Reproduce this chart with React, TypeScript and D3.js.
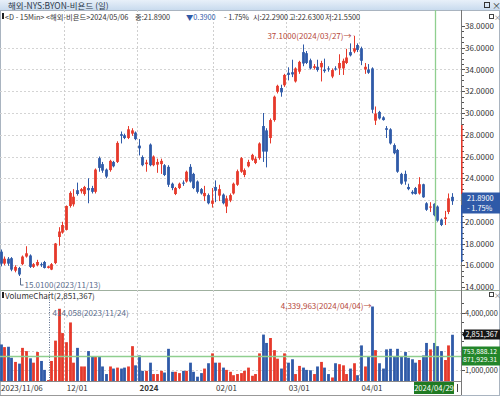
import React from 'react';
import * as d3 from 'd3';

// trading days shown (Nov 6 2023 .. May 6 2024)
const nov23 = [6, 7, 8, 9, 10, 13, 14, 15, 16, 17, 20, 21, 22, 24, 27, 28, 29, 30];
const dec23 = [1, 4, 5, 6, 7, 8, 11, 12, 13, 14, 15, 18, 19, 20, 21, 22, 26, 27, 28, 29];
const jan24 = [2, 3, 4, 5, 8, 9, 10, 11, 12, 16, 17, 18, 19, 22, 23, 24, 25, 26, 29, 30, 31];
const feb24 = [1, 2, 5, 6, 7, 8, 9, 12, 13, 14, 15, 16, 20, 21, 22, 23, 26, 27, 28, 29];
const mar24 = [1, 4, 5, 6, 7, 8, 11, 12, 13, 14, 15, 18, 19, 20, 21, 22, 25, 26, 27, 28];
const apr24 = [1, 2, 3, 4, 5, 8, 9, 10, 11, 12, 15, 16, 17, 18, 19, 22, 23, 24, 25, 26, 29, 30];
const may24 = [1, 2, 3, 6];

const opens = [
  17.25, 16.15, 16.6, 16.65, 15.5, 15.75, 16.1, 16.8, 16.9, 15.85,
  16.0, 16.1, 16.3, 15.75, 15.6, 16.2, 18.6, 19.0, 19.25, 21.45,
  21.6, 22.9, 22.8, 22.55, 23.1, 23.1, 22.75, 25.85, 25.3, 24.8,
  24.75, 25.5, 25.5, 28.05, 27.95, 27.7, 28.1, 28.2, 27.0, 25.95,
  25.3, 27.1, 25.2, 25.25, 25.3, 25.2, 25.05, 23.5, 22.55, 23.1,
  23.6, 23.7, 25.05, 24.4, 23.7, 23.0, 22.35, 22.45, 21.65, 23.2,
  22.4, 22.5, 21.4, 21.95, 22.6, 23.4, 24.6, 24.3, 25.1, 25.7,
  25.4, 25.85, 28.8, 28.4, 27.7, 29.35, 31.95, 32.3, 32.55, 33.7,
  33.75, 32.9, 33.8, 35.6, 35.5, 34.85, 34.15, 34.25, 34.2, 34.0,
  34.1, 33.35, 34.1, 34.1, 34.1, 34.6, 35.6, 35.65, 36.25, 35.95,
  34.0, 34.0, 34.1, 29.3, 30.1, 29.6, 28.6, 28.5, 27.05, 26.6,
  24.4, 24.4, 23.2, 22.75, 23.1, 22.6, 23.45, 21.7, 21.3, 21.65,
  21.4, 20.2, 20.25, 20.9, 22.29,
];
const highs = [
  17.45, 16.8, 16.75, 16.75, 16.0, 15.85, 16.9, 17.75, 17.0, 16.2,
  16.5, 16.25, 16.4, 15.95, 16.2, 18.05, 19.5, 20.0, 21.5, 22.8,
  23.0, 23.6, 23.1, 23.3, 24.0, 23.3, 24.9, 26.0, 25.5, 24.9,
  25.7, 25.6, 27.4, 28.3, 28.1, 28.8, 28.6, 28.3, 27.6, 26.1,
  25.7, 27.2, 26.1, 25.8, 25.8, 25.3, 25.2, 23.6, 23.2, 23.6,
  23.8, 24.7, 25.3, 24.5, 23.8, 23.1, 23.3, 22.6, 23.1, 23.8,
  23.4, 22.6, 22.4, 22.6, 23.6, 24.8, 25.95, 24.9, 25.7, 26.25,
  26.0, 27.3, 30.0, 28.6, 29.5, 31.6, 32.6, 32.6, 33.6, 34.2,
  34.9, 34.2, 34.8, 36.3, 35.7, 35.0, 34.5, 34.9, 34.8, 35.0,
  34.3, 34.1, 34.3, 35.4, 35.0, 35.9, 36.4, 37.1, 36.4, 36.1,
  34.6, 34.5, 34.2, 30.6, 30.2, 29.7, 28.8, 28.6, 27.2, 26.7,
  24.5, 24.7, 23.5, 22.9, 23.2, 24.1, 23.5, 21.8, 21.8, 21.7,
  21.5, 20.3, 21.0, 22.6, 22.63,
];
const lows = [
  15.9, 16.0, 15.95, 15.45, 15.35, 15.01, 16.0, 16.7, 15.75, 15.75,
  15.9, 15.85, 15.7, 15.7, 15.55, 16.1, 17.8, 18.9, 19.2, 21.3,
  21.4, 22.4, 22.6, 22.4, 21.7, 22.6, 22.6, 24.6, 24.5, 24.0,
  24.6, 25.0, 25.4, 27.2, 27.6, 27.6, 27.9, 27.5, 26.1, 25.1,
  24.6, 25.1, 25.1, 24.5, 24.4, 24.2, 23.2, 22.9, 22.45, 23.0,
  23.3, 23.6, 23.6, 23.0, 22.6, 22.5, 21.9, 21.6, 21.3, 21.8,
  21.9, 21.6, 20.8, 21.8, 22.5, 23.3, 24.5, 24.1, 25.0, 25.6,
  25.3, 25.7, 25.5, 25.0, 27.2, 29.2, 31.8, 31.5, 32.4, 33.0,
  33.3, 32.8, 33.6, 34.3, 34.5, 34.0, 34.0, 33.8, 32.9, 33.7,
  33.8, 33.2, 33.9, 33.5, 33.5, 34.5, 35.2, 35.5, 35.6, 34.4,
  33.6, 33.6, 30.0, 28.9, 29.4, 29.3, 27.7, 27.1, 26.2, 24.5,
  23.4, 23.4, 22.9, 22.5, 22.5, 22.5, 22.2, 21.0, 20.9, 20.5,
  20.0, 19.6, 19.7, 20.7, 21.55,
];
const closes = [
  16.15, 16.6, 16.15, 15.6, 15.85, 15.15, 16.8, 17.1, 15.85, 16.1,
  16.3, 16.05, 15.75, 15.9, 16.1, 18.0, 19.1, 19.7, 21.45, 22.65,
  22.3, 22.55, 23.0, 23.2, 22.9, 22.75, 24.8, 24.95, 24.7, 24.15,
  25.6, 25.1, 27.25, 27.9, 27.7, 28.5, 28.4, 27.6, 26.75, 25.2,
  25.45, 25.2, 26.0, 25.5, 25.6, 24.3, 23.4, 23.1, 23.1, 23.5,
  23.5, 24.6, 23.7, 23.1, 22.75, 22.6, 22.65, 21.7, 21.95, 22.85,
  23.0, 21.7, 22.15, 22.45, 23.5, 24.65, 25.85, 24.75, 25.5, 26.15,
  25.8, 27.2, 26.45, 26.45, 29.35, 31.5, 32.5, 31.9, 33.5, 33.5,
  33.55, 34.1, 34.7, 34.55, 34.6, 34.1, 34.3, 33.95, 34.6, 33.85,
  34.0, 33.95, 34.0, 34.6, 34.8, 35.1, 35.3, 35.95, 35.8, 34.8,
  34.25, 33.7, 30.3, 29.95, 29.5, 29.35, 28.45, 27.2, 26.3, 24.6,
  23.5, 23.7, 23.0, 22.6, 22.55, 23.45, 22.25, 21.1, 21.4, 20.6,
  20.1, 19.7, 20.4, 22.15, 21.89,
];
// volume in thousands of shares
const volumes = [
  2340, 2200, 2220, 1640, 1420, 1330, 2160, 1990, 1610, 1380,
  1940, 1470, 1000, 414.058, 1470, 2540, 4220, 2940, 2460, 3500,
  1380, 2160, 1180, 1180, 1990, 1680, 1730, 1730, 1180, 780,
  1180, 1070, 1120, 1070, 1120, 1180, 2250, 1240, 1760, 950,
  950, 1380, 780, 780, 950, 860, 2110, 900, 900, 830,
  950, 950, 1380, 900, 640, 830, 1070, 1350, 1870, 1380,
  1380, 1120, 1000, 900, 720, 780, 830, 950, 1120, 690,
  780, 1870, 2860, 2420, 2680, 2040, 1590, 1070, 1870, 1380,
  1560, 780, 1210, 1120, 1000, 980, 780, 1180, 1420, 1120,
  780, 600, 1350, 1300, 1240, 780, 1070, 1350, 720, 2290,
  1180, 1700, 4339.963, 2040, 1350, 1070, 2080, 2110, 1730, 2110,
  1700, 1940, 1640, 1560, 1380, 1520, 1760, 2420, 2080, 2420,
  2250, 1990, 1520, 2290, 2851.367,
];

const priceTicks = [14, 16, 18, 20, 22, 24, 26, 28, 30, 32, 34, 36, 38];
const volTicks = [1000000, 2000000, 3000000, 4000000];
const volLabelTicks = [1000000, 4000000];
const monthStarts = ['2023/12/01', '2024/01/02', '2024/02/01', '2024/03/01', '2024/04/01'];
const monthLabels = ['12/01', '2024', '02/01', '03/01', '04/01'];

const pad = (n: number) => (n < 10 ? '0' + n : '' + n);
const dates: string[] = [
  ...nov23.map(d => `2023/11/${pad(d)}`),
  ...dec23.map(d => `2023/12/${pad(d)}`),
  ...jan24.map(d => `2024/01/${pad(d)}`),
  ...feb24.map(d => `2024/02/${pad(d)}`),
  ...mar24.map(d => `2024/03/${pad(d)}`),
  ...apr24.map(d => `2024/04/${pad(d)}`),
  ...may24.map(d => `2024/05/${pad(d)}`),
];

const RED = '#e6392b';
const BLUE = '#2f5aa8';
const NOTE_RED = '#b5473a';
const NOTE_BLUE = '#5a6d8c';
const GREEN_LINE = '#8fcf8f';
const FONT = "'Noto Sans CJK KR', 'Noto Sans', sans-serif";

const axisX = 461;
const priceTop = 10;
const priceBottom = 290;
const volBottom = 381;

export default function App() {
  const x = d3.scaleBand<string>().domain(dates).range([-1.3, 453.7]);
  const step = x.step();
  const cx = (d: string) => Math.round((x(d) as number) + step / 2) + 0.5;
  const y = d3.scaleLinear().domain([14, 38]).range([287, 26]);
  const minVol = d3.min(volumes)! * 1000;
  const maxVol = d3.max(volumes)! * 1000;
  const yv = d3.scaleLinear().domain([minVol, maxVol]).range([381, 306.5]);
  const fmt = d3.format(',');
  const fmt4 = d3.format('.4f');

  const minorPrice = d3.range(14, 38.01, 0.5);
  const minorVol = d3.range(1000000, 4500001, 500000);
  const lastClose = closes[closes.length - 1];

  const hiIdx = d3.maxIndex(highs);
  const loIdx = d3.minIndex(lows);
  const vMaxIdx = d3.maxIndex(volumes);
  const vMinIdx = d3.minIndex(volumes);
  const crossIdx = dates.indexOf('2024/04/29');
  const crossX = cx(dates[crossIdx]) + 1;

  return (
    <svg width={500} height={397} style={{ position: 'absolute', left: 0, top: 0, background: '#fff' }} fontFamily={FONT}>
      <defs>
        <linearGradient id="tb" x1="0" x2="0" y1="0" y2="1">
          <stop offset="0" stopColor="#e8f0f9" />
          <stop offset="1" stopColor="#c9dbee" />
        </linearGradient>
        <clipPath id="priceClip"><rect x={0} y={priceTop} width={axisX} height={priceBottom - priceTop} /></clipPath>
      </defs>

      {/* title bar */}
      <rect x={0} y={0} width={500} height={10} fill="url(#tb)" />
      <text x={8} y={8.5} fontSize={8.5} fill="#2d3a4c">해외-NYS:BYON-비욘드 (일)</text>
      <rect x={484.5} y={2.5} width={5} height={5} fill="none" stroke="#333" />
      <text x={492} y={8.5} fontSize={9} fill="#333">×</text>

      {/* frames */}
      <rect x={0.5} y={10.5} width={499} height={385} fill="none" stroke="#a9b4c0" />
      <line x1={0} x2={500} y1={priceBottom + 0.5} y2={priceBottom + 0.5} stroke="#9fb09f" />
      <line x1={0} x2={axisX} y1={volBottom + 0.5} y2={volBottom + 0.5} stroke="#888" />
      <line x1={axisX + 0.5} x2={axisX + 0.5} y1={priceTop} y2={volBottom + 14} stroke="#777" />

      {/* grid */}
      {priceTicks.filter(t => t > 14 && t < 38).map(t => (
        <line key={'pg' + t} x1={0} x2={axisX} y1={Math.round(y(t)) + 0.5} y2={Math.round(y(t)) + 0.5}
          stroke="#d4d4d4" strokeDasharray="2,2" />
      ))}
      {volTicks.map(t => (
        <line key={'vg' + t} x1={0} x2={axisX} y1={Math.round(yv(t)) + 0.5} y2={Math.round(yv(t)) + 0.5}
          stroke="#d4d4d4" strokeDasharray="2,2" />
      ))}
      {monthStarts.map(m => (
        <line key={'mg' + m} x1={Math.round(x(m) as number) + 0.5} x2={Math.round(x(m) as number) + 0.5}
          y1={priceTop} y2={volBottom} stroke="#cfcfcf" strokeDasharray="2,2" />
      ))}

      {/* header line */}
      <rect x={2} y={13} width={2} height={6} fill="#222" />
      <g fontSize={7.3} fill="#333">
        <text x={5} y={19.5}>{'<D - 15Min> <해외-비욘드>2024/05/06'}</text>
        <text x={135} y={19.5}>종:21.8900</text>
        <text x={186} y={19.5} fill={BLUE}>▼0.3900</text>
        <text x={224} y={19.5}>- 1.75%</text>
        <text x={253} y={19.5}>시:22.2900</text>
        <text x={289} y={19.5}>고:22.6300</text>
        <text x={325} y={19.5}>저:21.5500</text>
      </g>
      <rect x={489.5} y={14.5} width={4} height={4} fill="none" stroke="#444" />
      <text x={494} y={20} fontSize={7} fill="#666">×</text>

      {/* candles */}
      <g clipPath="url(#priceClip)">
        {dates.map((d, i) => {
          const up = closes[i] >= opens[i];
          const c = up ? RED : BLUE;
          const top = y(Math.max(opens[i], closes[i]));
          const bot = y(Math.min(opens[i], closes[i]));
          const xc = cx(d);
          return (
            <g key={'c' + d}>
              <line x1={xc} x2={xc} y1={y(highs[i])} y2={y(lows[i])} stroke={c} strokeWidth={1} />
              <rect x={xc - 1.4} y={top} width={2.8} height={Math.max(1, bot - top)} fill={c} />
            </g>
          );
        })}
      </g>

      {/* high / low notes */}
      <text x={cx(dates[hiIdx]) - 3} y={39} fontSize={8} fill={NOTE_RED} textAnchor="end">
        {fmt4(highs[hiIdx])}({dates[hiIdx]})→
      </text>
      <line x1={cx(dates[hiIdx]) - 1} x2={cx(dates[hiIdx]) - 1} y1={36} y2={y(highs[hiIdx])} stroke={NOTE_RED} />
      <path d={`M${cx(dates[loIdx]) + 1},${y(lows[loIdx]) + 2} V${285} H${cx(dates[loIdx]) + 4}`} fill="none" stroke={NOTE_BLUE} />
      <text x={cx(dates[loIdx]) + 5} y={288} fontSize={8} fill={NOTE_BLUE}>
        {fmt4(lows[loIdx])}({dates[loIdx]})
      </text>

      {/* volume panel */}
      <rect x={2} y={292} width={2} height={6} fill="#222" />
      <text x={5} y={298.5} fontSize={8} fill="#333">VolumeChart({fmt(Math.round(volumes[volumes.length - 1] * 1000))})</text>
      <rect x={489.5} y={292.5} width={4} height={4} fill="none" stroke="#444" />
      <text x={494} y={298} fontSize={7} fill="#666">×</text>
      {dates.map((d, i) => {
        const up = closes[i] >= opens[i];
        const v = volumes[i] * 1000;
        const top = yv(v);
        return (
          <rect key={'v' + d} x={cx(d) - 1.4} y={Math.min(top, volBottom - 1)} width={2.8}
            height={Math.max(1, volBottom - top)} fill={up ? RED : BLUE} />
        );
      })}
      <line x1={cx(dates[vMinIdx]) + 1} x2={cx(dates[vMinIdx]) + 1} y1={priceBottom + 2} y2={volBottom}
        stroke={NOTE_BLUE} strokeDasharray="1,1.5" />
      <text x={cx(dates[vMinIdx]) + 4} y={316} fontSize={8} fill={NOTE_BLUE}>
        {fmt(Math.round(volumes[vMinIdx] * 1000))}({dates[vMinIdx]})
      </text>
      <text x={cx(dates[vMaxIdx]) - 1} y={309} fontSize={8} fill={NOTE_RED} textAnchor="end">
        {fmt(Math.round(volumes[vMaxIdx] * 1000))}({dates[vMaxIdx]})→
      </text>

      {/* crosshair */}
      <line x1={crossX} x2={crossX} y1={priceTop} y2={volBottom} stroke={GREEN_LINE} strokeWidth={1.3} />
      <line x1={0} x2={axisX} y1={356.5} y2={356.5} stroke={GREEN_LINE} strokeWidth={1.3} />

      {/* price axis */}
      {minorPrice.map(t => (
        <line key={'pt' + t} x1={axisX + 1} x2={axisX + (t % 2 === 0 ? 4 : 3)} y1={Math.round(y(t)) + 0.5} y2={Math.round(y(t)) + 0.5} stroke="#555" />
      ))}
      {priceTicks.filter(t => Math.abs(y(t) - y(lastClose)) > 12).map(t => (
        <text key={'pl' + t} x={axisX + 4} y={y(t) + 3} fontSize={8} fill="#333">{fmt4(t)}</text>
      ))}
      <rect x={axisX} y={125} width={1.6} height={69} fill={RED} />
      <rect x={axisX} y={205} width={1.6} height={57} fill={BLUE} />
      <rect x={axisX + 1} y={192.5} width={38} height={21} fill={BLUE} />
      <text x={axisX + 6} y={200.5} fontSize={7.4} fill="#fff">{fmt4(lastClose)}</text>
      <text x={axisX + 6} y={211} fontSize={7.4} fill="#fff">- 1.75%</text>

      {/* volume axis */}
      {minorVol.map(t => (
        <line key={'vt' + t} x1={axisX + 1} x2={axisX + (t % 1000000 === 0 ? 4 : 3)} y1={Math.round(yv(t)) + 0.5} y2={Math.round(yv(t)) + 0.5} stroke="#555" />
      ))}
      {volLabelTicks.map(t => (
        <text key={'vl' + t} x={axisX + 4} y={yv(t) + 3.5} fontSize={7.4} fill="#333">{fmt(t)}</text>
      ))}
      <path d={`M${axisX + 1},${334.5} L${axisX + 4},${331} V${338} Z`} fill="#111" />
      <rect x={axisX + 3} y={329.5} width={36} height={10} fill="#161616" />
      <text x={axisX + 4.5} y={337.3} fontSize={7.3} fill="#fff">{fmt(Math.round(volumes[volumes.length - 1] * 1000))}</text>
      <rect x={axisX + 1} y={346.5} width={38} height={19} fill="#23862a" />
      <text x={axisX + 2} y={353.5} fontSize={6.8} fill="#fff">753,888.12</text>
      <text x={axisX + 2} y={362.3} fontSize={6.8} fill="#fff">871,929.31</text>

      {/* date axis */}
      <line x1={0} x2={axisX} y1={395.5} y2={395.5} stroke="#999" />
      <text x={1} y={391} fontSize={8} fill="#333">2023/11/06</text>
      {monthStarts.map((m, k) => (
        <text key={'ml' + m} x={(x(m) as number) + 2.5} y={391} fontSize={8} fill="#333"
          fontWeight={monthLabels[k] === '2024' ? 'bold' : 'normal'}>{monthLabels[k]}</text>
      ))}
      <rect x={414} y={382} width={40} height={12} fill="#1f7a22" />
      <text x={434} y={391} fontSize={7.6} fill="#fff" textAnchor="middle">{dates[crossIdx]}</text>
      <line x1={457.5} x2={457.5} y1={384} y2={392} stroke="#444" />
    </svg>
  );
}
